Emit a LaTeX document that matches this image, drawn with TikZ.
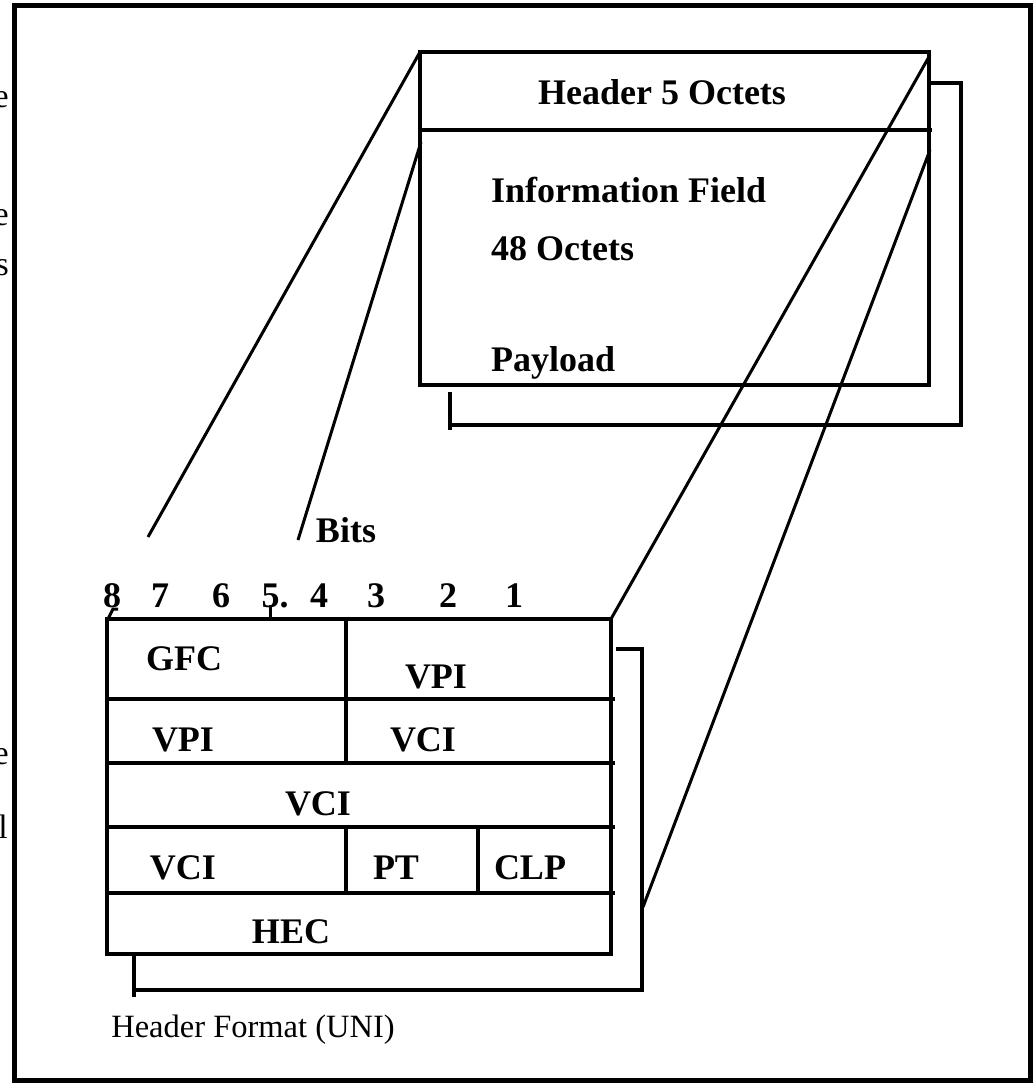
\documentclass[tikz,border=0pt]{standalone}
\usepackage{fontspec}
\setmainfont{Liberation Serif}
\tikzset{
  lbl/.style={font=\bfseries\fontsize{36}{42}\selectfont, inner sep=0pt},
  reglbl/.style={font=\fontsize{32.5}{38}\selectfont, inner sep=0pt},
  frag/.style={font=\fontsize{34}{40}\selectfont, inner sep=0pt, anchor=east},
  boxline/.style={line width=4pt},
  diag/.style={line width=3pt},
  frame/.style={line width=5pt},
  blk/.style={draw, line width=4pt, inner sep=0pt, outer sep=0pt, anchor=north west}
}
\begin{document}
\begin{tikzpicture}[x=1pt,y=-1pt]
\useasboundingbox (0,0) rectangle (1034,1084);
\clip (0,0) rectangle (1034,1084);
\fill[white] (0,0) rectangle (1034,1084);
% outer frame
\draw[frame] (14,5) rectangle (1030,1080);
% clipped fragments at the left edge
\node[frag] (f1) at (9,100) {e};
\node[frag] (f2) at (9,218) {e};
\node[frag] (f3) at (9,268) {s};
\node[frag] (f4) at (9,757) {e};
\node[frag] (f5) at (8,827) {l};

% ---------- top cell ----------
\node[blk, minimum width=509pt, minimum height=333pt] (cell) at (420,52) {};
\draw[boxline] (420,130) -- (932,130);
\node[lbl] (hdr5) at (662,92) {Header 5 Octets};
\node[lbl, anchor=west] (info) at (491,190) {Information Field};
\node[lbl, anchor=west] (oct48) at (491,249) {48 Octets};
\node[lbl, anchor=west] (pay) at (491,363) {Payload};
% bracket of top cell
\coordinate (tb1) at (930,83);
\coordinate (tb2) at (961,83);
\coordinate (tb3) at (961,425);
\coordinate (tb4) at (450,425);
\coordinate (tb5) at (450,392);
\draw[boxline] (tb1) -- (tb2) -- (tb3) -- (tb4);
\draw[boxline] (tb5) -- (450,430);

% ---------- header format ----------
\node[blk, minimum width=504pt, minimum height=335pt] (hdr) at (107,619) {};
\foreach \yy in {699,763,827,893} \draw[boxline] (107,\yy) -- (615,\yy);
\draw[boxline] (346,619) -- (346,765);
\draw[boxline] (346,827) -- (346,893);
\draw[boxline] (478,827) -- (478,893);
% bit numbers
\node[lbl] (b8) at (112,596) {8};
\node[lbl] (b7) at (160,596) {7};
\node[lbl] (b6) at (221,596) {6};
\node[lbl] (b5) at (275,596) {5.};
\node[lbl] (b4) at (319,596) {4};
\node[lbl] (b3) at (376,596) {3};
\node[lbl] (b2) at (448,596) {2};
\node[lbl] (b1) at (514,596) {1};
\draw[line width=3pt] (270,605) -- (270,619);
\draw[line width=3pt] (108,619) -- (113,609) -- (118,609);
% field labels
\node[lbl] (gfc) at (184,659) {GFC};
\node[lbl] (vpi1) at (436,677) {VPI};
\node[lbl] (vpi2) at (183,740) {VPI};
\node[lbl] (vci1) at (423,740) {VCI};
\node[lbl] (vci2) at (318,804) {VCI};
\node[lbl] (vci3) at (183,868) {VCI};
\node[lbl] (pt) at (396,868) {PT};
\node[lbl] (clp) at (530,868) {CLP};
\node[lbl] (hec) at (291,932) {HEC};
\node[lbl] (bits) at (346,530) {Bits};
\node[reglbl] (cap) at (253,1030) {Header Format (UNI)};
% bracket of header
\coordinate (hb1) at (616,649);
\coordinate (hb2) at (642,649);
\coordinate (hb3) at (642,990);
\coordinate (hb4) at (134,990);
\coordinate (hb5) at (134,954);
\draw[boxline] (hb1) -- (hb2) -- (hb3) -- (hb4);
\draw[boxline] (hb5) -- (134,997);

% ---------- zoom lines ----------
\coordinate (bitL) at (148,537);
\coordinate (bitR) at (298,540);
\coordinate (cellL2) at (421,142);
\coordinate (cellR1) at (930,55);
\coordinate (cellR2) at (930,150);
\coordinate (hdrR2) at (643,907);
\draw[diag] (cell.north west) -- (bitL);
\draw[diag] (cellL2) -- (bitR);
\draw[diag] (cellR1) -- (hdr.north east);
\draw[diag] (cellR2) -- (hdrR2);
\end{tikzpicture}
\end{document}
